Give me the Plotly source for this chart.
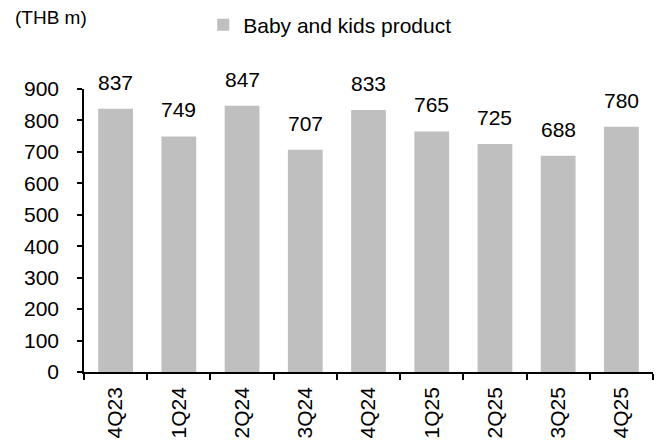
import plotly.graph_objects as go

categories = ["4Q23", "1Q24", "2Q24", "3Q24", "4Q24", "1Q25", "2Q25", "3Q25", "4Q25"]
values = [837, 749, 847, 707, 833, 765, 725, 688, 780]
series_name = "Baby and kids product"
y_ticks = [0, 100, 200, 300, 400, 500, 600, 700, 800, 900]

FONT = "Liberation Sans, Arial, sans-serif"
FS = 21

fig = go.Figure()
fig.add_trace(go.Bar(
    x=categories, y=values, name=series_name,
    marker=dict(color="#BFBFBF", line=dict(width=0)),
))

for c, v in zip(categories, values):
    fig.add_annotation(x=c, y=v, text=str(v), showarrow=False,
                       yanchor="bottom", yshift=13,
                       font=dict(family=FONT, size=FS, color="black"))

fig.add_annotation(xref="paper", yref="paper", x=-0.125, y=1.254,
                   xanchor="left", yanchor="middle", text="(THB m)", showarrow=False,
                   font=dict(family=FONT, size=19, color="black"))

fig.update_layout(
    width=662, height=441, autosize=False,
    margin=dict(l=84, r=9, t=89, b=69, autoexpand=False),
    paper_bgcolor="white", plot_bgcolor="white",
    font=dict(family=FONT, size=FS, color="black"),
    bargap=0.45,
    showlegend=True,
    legend=dict(orientation="h", xref="container", yref="container",
                x=0.307, xanchor="left", y=0.943, yanchor="middle",
                font=dict(family=FONT, size=FS, color="black"),
                bgcolor="rgba(0,0,0,0)", itemwidth=30),
)
fig.update_xaxes(
    type="category", showline=True, linecolor="black", linewidth=1.5,
    ticks="outside", tickson="boundaries", ticklen=6, tickcolor="black", tickwidth=1.5,
    tickangle=-90, showgrid=False, zeroline=False, ticklabelstandoff=5,
    tickfont=dict(family=FONT, size=FS, color="black"),
)
fig.update_yaxes(
    range=[0, 900], tickvals=y_ticks, showline=True, linecolor="black", linewidth=1.5,
    ticks="outside", ticklen=5, tickcolor="black", tickwidth=1.5,
    showgrid=False, zeroline=False, ticklabelstandoff=14,
    tickfont=dict(family=FONT, size=FS, color="black"),
)

fig.write_html("out.html")
